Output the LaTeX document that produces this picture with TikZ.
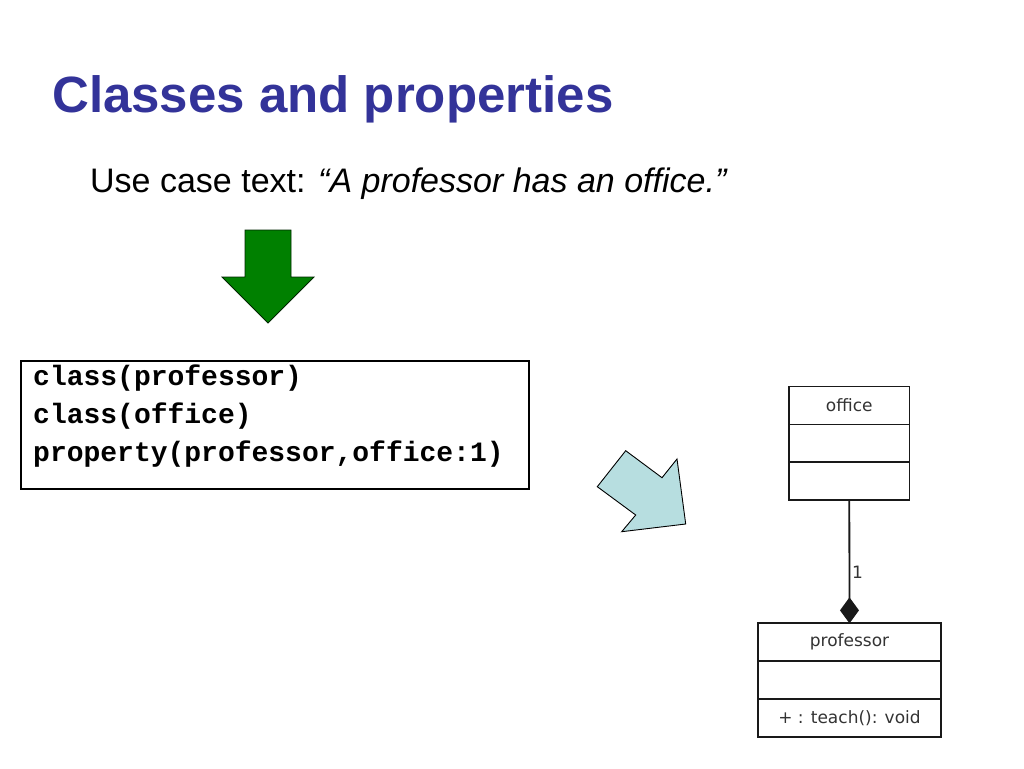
\documentclass[tikz,border=0pt]{standalone}
\usepackage{fontspec}
\setmainfont{Liberation Sans}
\setmonofont{Liberation Mono}
\newfontfamily\umlfont{DejaVu Sans}
\usetikzlibrary{arrows.meta}
\definecolor{titleblue}{HTML}{333399}
\definecolor{darkgr}{HTML}{008000}
\definecolor{paleblue}{HTML}{B7DEE0}
\tikzset{
  umlbox/.style={draw=none, minimum height=37.5pt, inner sep=0pt, font=\umlfont\fontsize{17}{20}\selectfont, text=black!80},
  officebox/.style={umlbox, minimum width=120pt},
  profbox/.style={umlbox, minimum width=182pt},
  umlline/.style={line width=1.8pt, draw=black!90},
  txt/.style={inner sep=0pt, anchor=base west}
}
\begin{document}
\begin{tikzpicture}[x=1pt,y=-1pt]
\useasboundingbox (0,0) rectangle (1024,768);
\fill[white] (0,0) rectangle (1024,768);
% title
\node[txt, text=titleblue, font=\fontsize{51}{58}\selectfont\bfseries] (title) at (52,112) {Classes and properties};
\node[txt, font=\fontsize{34}{40}\selectfont] (usecase) at (90,192) {Use case text: \textit{“A professor has an office.”}};
% green arrow
\draw[fill=darkgr, draw=black!70!darkgr, line width=0.8pt] (245,230) -- (291,230) -- (291,277) -- (314,277) -- (268,323) -- (222,277) -- (245,277) -- cycle;
% code box
\node[draw=black, line width=1.6pt, minimum width=508pt, minimum height=128pt, inner sep=0pt, anchor=north west] (codebox) at (20,360) {};
\node[inner sep=0pt, anchor=base west, align=left, font=\ttfamily\bfseries\fontsize{28}{38}\selectfont] (code) at (33,461) {class(professor)\\class(office)\\property(professor,office:1)};
% pale blue arrow
\draw[fill=paleblue, draw=black, line width=0.9pt] (625.7,450.7) -- (662,477.7) -- (677,459) -- (685.7,524) -- (621.7,531.7) -- (635.7,515) -- (597.3,486.7) -- cycle;
% UML office
\node[officebox] (officeName) at (849.3,405.5) {office};
\node[officebox, anchor=north] (officeAttr) at (officeName.south) {};
\node[officebox, anchor=north] (officeOps) at (officeAttr.south) {};
\draw[umlline] (officeName.north west) rectangle (officeOps.south east);
\draw[umlline] (officeName.south west) -- (officeName.south east);
\draw[umlline] (officeAttr.south west) -- (officeAttr.south east);
% UML professor
\node[profbox] (profName) at (849.5,642.3) {professor};
\node[profbox, anchor=north] (profAttr) at (profName.south) {};
\node[profbox, anchor=north] (profOps) at (profAttr.south) {+ : teach(): void};
\draw[umlline] (profName.north west) rectangle (profOps.south east);
\draw[umlline] (profName.south west) -- (profName.south east);
\draw[umlline] (profAttr.south west) -- (profAttr.south east);
% composition
\draw[umlline, -{Diamond[length=26pt,width=19pt]}] (officeOps.south) -- (profName.north);
\node[inner sep=0pt, anchor=west, font=\umlfont\fontsize{17}{20}\selectfont, text=black!80] (mult) at (852,572) {1};
\end{tikzpicture}
\end{document}
